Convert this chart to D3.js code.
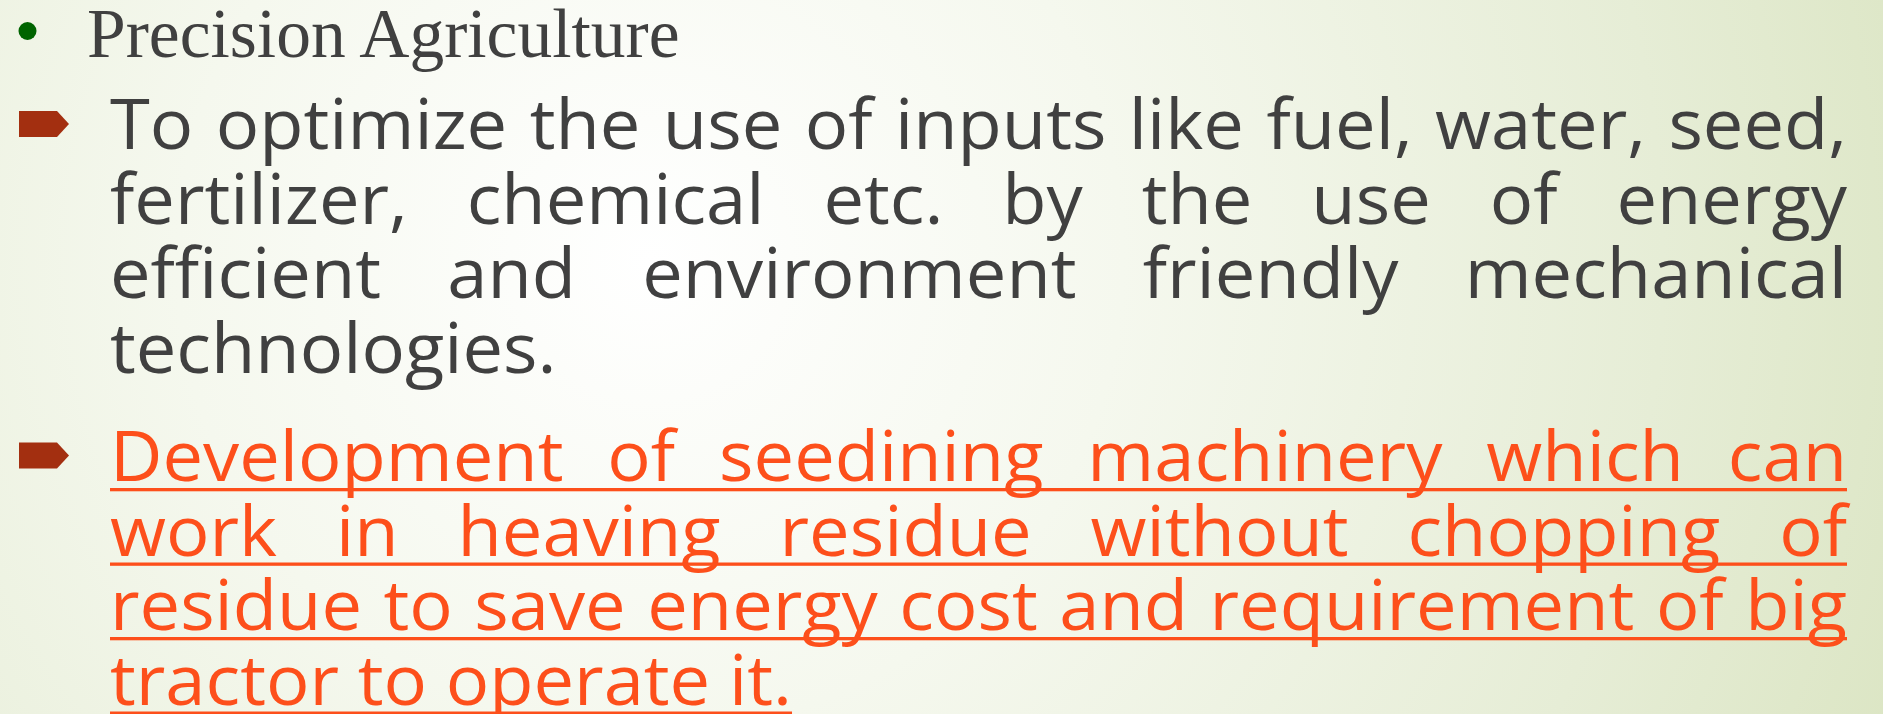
<!DOCTYPE html>
<html>
<head>
<meta charset="utf-8">
<script src="https://cdn.jsdelivr.net/npm/d3@7"></script>
<style>
  html, body { margin: 0; padding: 0; overflow: hidden; }
  svg { display: block; }
</style>
</head>
<body>
<svg id="slide" width="1883" height="714"></svg>
<script>
// slide text, one entry per rendered line
const heading = "Precision Agriculture";
const grayLines = [
    "To optimize the use of inputs like fuel, water, seed,",
    "fertilizer, chemical etc. by the use of energy",
    "efficient and environment friendly mechanical",
    "technologies."
];
const redLines = [
    "Development of seedining machinery which can",
    "work in heaving residue without chopping of",
    "residue to save energy cost and requirement of big",
    "tractor to operate it."
];

const W = 1883, H = 714;
const svg = d3.select("#slide");

// background: soft radial wash, white to pale green
const defs = svg.append("defs");
const grad = defs.append("radialGradient")
    .attr("id", "bg")
    .attr("gradientUnits", "userSpaceOnUse")
    .attr("cx", 650).attr("cy", 260).attr("r", 1350);
grad.append("stop").attr("offset", 0).attr("stop-color", "#ffffff");
grad.append("stop").attr("offset", 0.35).attr("stop-color", "#f5f8ee");
grad.append("stop").attr("offset", 0.75).attr("stop-color", "#e6edd6");
grad.append("stop").attr("offset", 1).attr("stop-color", "#dbe5c3");
svg.append("rect").attr("width", W).attr("height", H).attr("fill", "url(#bg)");

const sansFont = "'Open Sans', 'Liberation Sans', sans-serif";
const fontSize = 69;

// text column spans this range
const x = d3.scaleLinear().domain([0, 1]).range([110, 1847]);
const yGray = d3.scaleLinear().domain([0, 3]).range([149, 373]);
const yRed = d3.scaleLinear().domain([0, 3]).range([481, 704.5]);

// heading with green dot
svg.append("ellipse")
    .attr("cx", 27.5).attr("cy", 31).attr("rx", 9).attr("ry", 9)
    .attr("fill", "#006400");
svg.append("text")
    .attr("x", 87).attr("y", 57)
    .attr("font-family", "'Liberation Serif', 'Times New Roman', serif")
    .attr("font-size", 69.5)
    .attr("fill", "#404040")
    .text(heading);

// arrow bullets
function arrow(cy){
    const p = d3.path();
    p.moveTo(19, cy - 13);
    p.lineTo(57, cy - 13);
    p.lineTo(69, cy);
    p.lineTo(57, cy + 13);
    p.lineTo(19, cy + 13);
    p.closePath();
    svg.append("path").attr("d", p.toString()).attr("fill", "#a32f10");
}
arrow(yGray(0) - 25);
arrow(yRed(0) - 25.5);

// measure word widths in the chosen font
const probe = svg.append("text")
    .attr("font-family", sansFont)
    .attr("font-size", fontSize)
    .attr("visibility", "hidden");
function measure(s){
    probe.text(s);
    return probe.node().getComputedTextLength();
}
const spaceW = measure("a a") - measure("aa");
// horizontal stretch so the loose last line matches the original width
const sx = (792 - 110) / measure(redLines[3]);

function drawParagraph(lines, yScale, color, underline){
    lines.forEach((line, i) => {
        const words = line.split(" ");
        const widths = words.map(w => measure(w) * sx);
        const total = d3.sum(widths);
        const justify = i < lines.length - 1;
        const gap = justify
            ? (x(1) - x(0) - total) / (words.length - 1)
            : spaceW * sx;
        let cx = x(0);
        const y = yScale(i);
        words.forEach((w, j) => {
            svg.append("text")
                .attr("x", cx).attr("y", y)
                .attr("font-family", sansFont)
                .attr("font-size", fontSize)
                .attr("fill", color)
                .attr("textLength", widths[j])
                .attr("lengthAdjust", "spacingAndGlyphs")
                .text(w);
            cx += widths[j] + gap;
        });
        if (underline){
            const end = justify ? x(1) : cx - gap;
            svg.append("rect")
                .attr("x", x(0)).attr("y", y + 7)
                .attr("width", end - x(0)).attr("height", 3.3)
                .attr("fill", color);
        }
    });
}

drawParagraph(grayLines, yGray, "#404040", false);
drawParagraph(redLines, yRed, "#fd4f1b", true);
probe.remove();
</script>
</body>
</html>
